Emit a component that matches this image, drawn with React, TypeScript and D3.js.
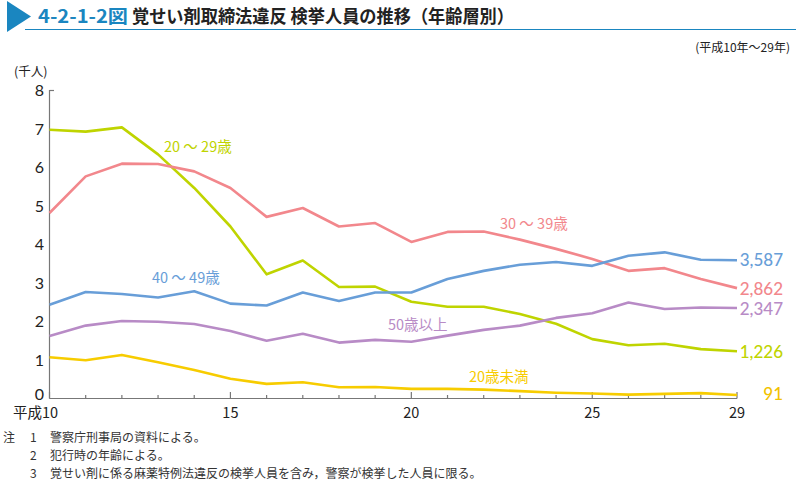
import React from "react";
import * as d3 from "d3";

const years = [10, 11, 12, 13, 14, 15, 16, 17, 18, 19, 20, 21, 22, 23, 24, 25, 26, 27, 28, 29];
const age20to29 = [6.97, 6.92, 7.03, 6.33, 5.46, 4.46, 3.22, 3.58, 2.89, 2.9, 2.51, 2.38, 2.38, 2.19, 1.94, 1.54, 1.38, 1.42, 1.28, 1.226];
const age30to39 = [4.81, 5.76, 6.09, 6.08, 5.89, 5.46, 4.71, 4.94, 4.46, 4.55, 4.06, 4.32, 4.33, 4.12, 3.88, 3.62, 3.31, 3.38, 3.1, 2.862];
const age40to49 = [2.43, 2.76, 2.71, 2.62, 2.78, 2.46, 2.41, 2.75, 2.53, 2.75, 2.75, 3.1, 3.31, 3.47, 3.54, 3.44, 3.7, 3.79, 3.6, 3.587];
const age50plus = [1.62, 1.89, 2.01, 1.99, 1.93, 1.75, 1.5, 1.68, 1.45, 1.52, 1.47, 1.63, 1.78, 1.89, 2.09, 2.21, 2.49, 2.32, 2.36, 2.347];
const under20 = [1.07, 0.99, 1.13, 0.94, 0.74, 0.51, 0.38, 0.42, 0.29, 0.3, 0.25, 0.25, 0.23, 0.19, 0.15, 0.13, 0.1, 0.12, 0.14, 0.091];
const yTicks = [0, 1, 2, 3, 4, 5, 6, 7, 8];
const xLabels: [number, string][] = [[10, "平成10"], [15, "15"], [20, "20"], [25, "25"], [29, "29"]];

const series = [
  { name: "20 ～ 29歳", values: age20to29, color: "#bfd400", end: "1,226", endColor: "#bfd400", lx: 164, ly: 152 },
  { name: "30 ～ 39歳", values: age30to39, color: "#f2878c", end: "2,862", endColor: "#f2878c", lx: 500, ly: 229 },
  { name: "40 ～ 49歳", values: age40to49, color: "#689ed8", end: "3,587", endColor: "#689ed8", lx: 152, ly: 283 },
  { name: "50歳以上", values: age50plus, color: "#b88bc6", end: "2,347", endColor: "#b88bc6", lx: 388, ly: 330 },
  { name: "20歳未満", values: under20, color: "#f7cc00", end: "91", endColor: "#f2c200", lx: 469, ly: 382 },
];

const FONT = "'Noto Sans CJK JP', 'Noto Sans', sans-serif";

export default function App() {
  const x = d3.scaleLinear().domain([10, 29]).range([49.5, 737]);
  const y = d3.scaleLinear().domain([0, 8]).range([398.5, 90]);
  const line = d3.line<number>().x((_, i) => x(years[i])).y((d) => y(d));
  const endY: Record<string, number> = { "3,587": 266, "2,862": 295, "2,347": 315, "1,226": 358, "91": 400 };

  return (
    <svg width={796} height={480} style={{ position: "absolute", left: 0, top: 0, background: "#fff" }} fontFamily={FONT}>
      {/* Title */}
      <polygon points="7,1 7,32 31,16.5" fill="#1a86c0" />
      <line x1={25} x2={796} y1={29.5} y2={29.5} stroke="#1a86c0" strokeWidth={1.2} />
      <text x={38} y={23} fontSize={18} fontWeight={700} fill="#1a86c0" textLength={90} lengthAdjust="spacingAndGlyphs">4-2-1-2図</text>
      <text x={132} y={23} fontSize={18} fontWeight={700} fill="#222" textLength={382} lengthAdjust="spacingAndGlyphs">覚せい剤取締法違反 検挙人員の推移（年齢層別）</text>
      <text x={790} y={52} fontSize={12} fill="#222" textAnchor="end">(平成10年～29年)</text>
      <text x={14} y={76} fontSize={12.5} fill="#222">(千人)</text>

      {/* Axes */}
      <line x1={49.5} x2={49.5} y1={90} y2={398.5} stroke="#777" strokeWidth={1.2} />
      <line x1={49.5} x2={54} y1={90.5} y2={90.5} stroke="#777" strokeWidth={1.2} />
      <line x1={49.5} x2={737} y1={398.5} y2={398.5} stroke="#777" strokeWidth={1.2} />
      {years.map((yr) => (
        <line key={yr} x1={x(yr)} x2={x(yr)} y1={398.5} y2={yr % 5 === 0 || yr === 29 ? 392 : 395}
          stroke="#777" strokeWidth={1.2} />
      ))}
      {yTicks.map((t) => (
        <text key={t} x={44} y={y(t) + (t === 0 ? 1 : 6)} fontSize={16} fill="#222" textAnchor="end" fontFamily="Lato, sans-serif">{t}</text>
      ))}
      {xLabels.map(([v, s]) => (
        <text key={v} x={v === 10 ? x(v) - 14 : x(v)} y={418} fontSize={14.5} fill="#222" textAnchor="middle">{s}</text>
      ))}

      {/* Lines */}
      {series.map((s) => (
        <path key={s.name} d={line(s.values) || ""} fill="none" stroke={s.color} strokeWidth={2.6} strokeLinejoin="round" />
      ))}
      {series.map((s) => (
        <text key={s.name + "l"} x={s.lx} y={s.ly} fontSize={14.5} fill={s.color}>{s.name}</text>
      ))}
      {series.map((s) => (
        <text key={s.name + "e"} x={783} y={endY[s.end]} fontSize={17} fontWeight={500} fill={s.endColor} textAnchor="end" fontFamily="Lato, sans-serif">{s.end}</text>
      ))}

      {/* Notes */}
      <g fontSize={12} fill="#333">
        <text x={3} y={442}>注</text>
        <text x={30} y={442}>1</text>
        <text x={50} y={442}>警察庁刑事局の資料による。</text>
        <text x={30} y={460}>2</text>
        <text x={50} y={460}>犯行時の年齢による。</text>
        <text x={30} y={478}>3</text>
        <text x={50} y={478}>覚せい剤に係る麻薬特例法違反の検挙人員を含み，警察が検挙した人員に限る。</text>
      </g>
    </svg>
  );
}
